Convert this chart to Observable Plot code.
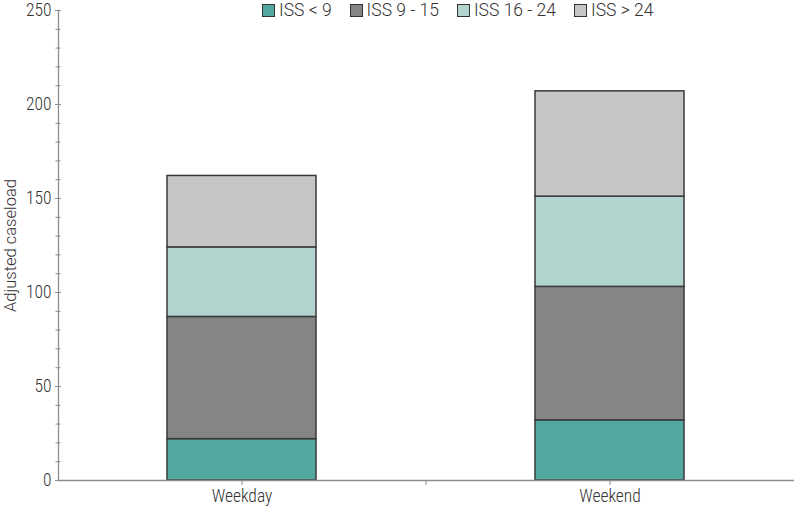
<!DOCTYPE html>
<html><head><meta charset="utf-8">
<script src="https://cdn.jsdelivr.net/npm/d3@7"></script>
<script src="https://cdn.jsdelivr.net/npm/@observablehq/plot@0.6"></script>
<style>
body{margin:0;background:#fff;}
#wrap{position:relative;width:794px;height:510px;}
#legend{position:absolute;top:0;left:262px;display:flex;align-items:center;font-family:Roboto,sans-serif;font-weight:300;font-size:17.5px;color:#333;line-height:20px;}
#legend .item{display:flex;align-items:center;margin-right:18px;}
#legend .sw{width:11px;height:11px;border:1px solid #333;margin-right:4px;}
#chart{position:absolute;top:0;left:0;}
#chart svg text{font-weight:300;}
g[aria-label="y-axis label"] text{font-family:Roboto,sans-serif;font-weight:300;font-size:16.5px;}
</style></head><body><div id="wrap"><div id="chart"></div><div id="legend"></div></div>
<script>
const days = ["Weekday", "Weekend"];
const groups = ["ISS < 9", "ISS 9 - 15", "ISS 16 - 24", "ISS > 24"];
const weekday = [22, 65, 37, 38];
const weekend = [32, 71, 48, 56];
const colors = ["#50a89e", "#858585", "#b2d4ce", "#c6c6c6"];
const majorTicks = [0, 50, 100, 150, 200, 250];
const minorTicks = [10,20,30,40,60,70,80,90,110,120,130,140,160,170,180,190,210,220,230,240];

const data = [];
groups.forEach((g, i) => {
  data.push({day: days[0], group: g, value: weekday[i]});
  data.push({day: days[1], group: g, value: weekend[i]});
});

const FONT = '"Liberation Sans Narrow","Roboto Condensed","DejaVu Sans Condensed",Roboto,sans-serif';
const W = 794, H = 510, mL = 58, mR = 0, mT = 10, mB = 30;
const step = (W - mL - mR) / days.length;
const axisGray = "#8e8e8e";

const chart = Plot.plot({
  width: W, height: H,
  marginLeft: mL, marginRight: mR, marginTop: mT, marginBottom: mB,
  style: {fontFamily: FONT, fontSize: "17.5px", color: "#333", background: "white", overflow: "visible"},
  x: {domain: days, paddingInner: 0.595, paddingOuter: 0.2975, axis: null},
  y: {domain: [0, 250], axis: null},
  color: {domain: groups, range: colors},
  marks: [
    Plot.barY(data, {x: "day", y: "value", fill: "group", stroke: "#3a3a3a", strokeWidth: 1.5}),
    Plot.ruleY([0], {stroke: axisGray, strokeWidth: 1.3}),
    Plot.frame({anchor: "left", stroke: axisGray, strokeWidth: 1.3}),
    Plot.axisY({ticks: minorTicks, tickSize: 5, dx: 2.5, tickFormat: () => "", stroke: axisGray, label: null}),
    Plot.axisY({ticks: majorTicks, tickSize: 6, dx: 3, tickPadding: 4, stroke: axisGray, fill: "#333",
      label: "Adjusted caseload", labelAnchor: "center", labelArrow: "none", labelOffset: 54}),
    Plot.axisX({tickSize: 5, tickPadding: 4, stroke: axisGray, fill: "#333", label: null}),
    Plot.axisX({ticks: [days[0]], dx: step / 2, tickSize: 5, tickFormat: () => "", stroke: axisGray, label: null})
  ]
});
document.getElementById("chart").appendChild(chart);

const legend = d3.select("#legend");
groups.forEach((g, i) => {
  const it = legend.append("div").attr("class", "item");
  it.append("div").attr("class", "sw").style("background", colors[i]);
  it.append("span").text(g);
});
</script>
</body></html>
